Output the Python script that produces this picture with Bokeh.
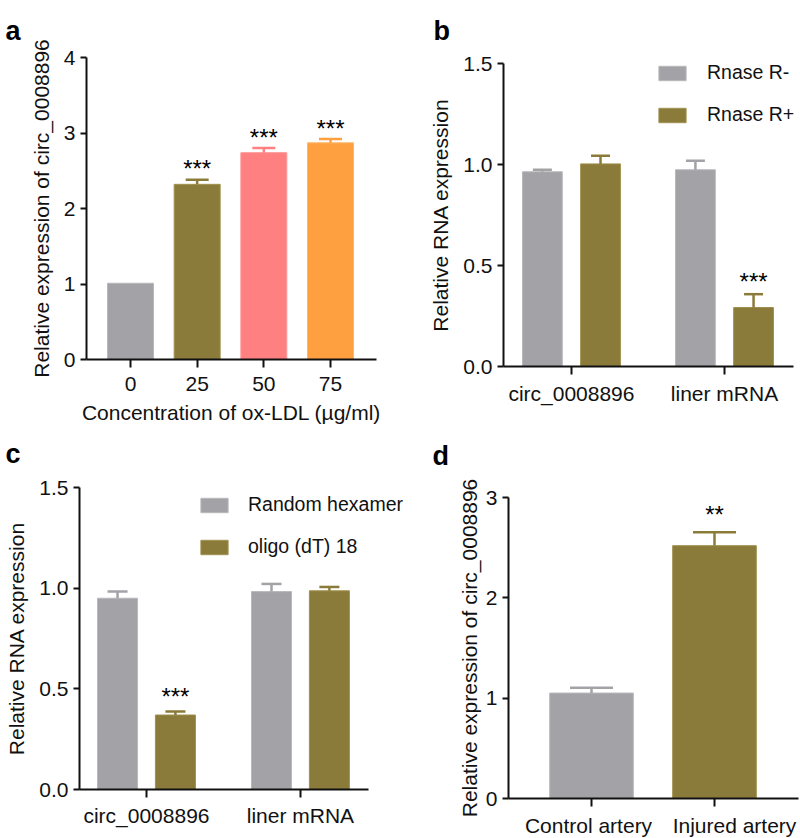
from bokeh.plotting import figure
from bokeh.layouts import column, row
from bokeh.models import (ColumnDataSource, Range1d, FixedTicker, Label, Legend,
                          LegendItem, PrintfTickFormatter)
from bokeh.transform import dodge
from bokeh.core.properties import value
from bokeh.embed import file_html
from bokeh.resources import INLINE

FONT = "Liberation Sans"
GRAY, OLIVE, PINK, ORANGE = "#A3A2A7", "#8B7B3A", "#FF8080", "#FFA040"
GRAY_EDGE, OLIVE_EDGE, PINK_EDGE, ORANGE_EDGE = "#B8B7BB", "#A0904E", "#FF9A9A", "#FFB566"

# ---------------- data ----------------
# panel a
a_conc = ["0", "25", "50", "75"]
a_mean = [1.01, 2.32, 2.74, 2.87]
a_err = [0.0, 0.06, 0.06, 0.05]
a_sig = ["", "***", "***", "***"]
a_colors = [GRAY, OLIVE, PINK, ORANGE]
a_edges = [GRAY_EDGE, OLIVE_EDGE, PINK_EDGE, ORANGE_EDGE]

# panel b
b_genes = ["circ_0008896", "liner mRNA"]
b_minus = [0.964, 0.974]
b_minus_err = [0.010, 0.044]
b_plus = [1.003, 0.292]
b_plus_err = [0.040, 0.066]
b_plus_sig = ["", "***"]

# panel c
c_genes = ["circ_0008896", "liner mRNA"]
c_random = [0.950, 0.983]
c_random_err = [0.033, 0.038]
c_oligo = [0.370, 0.987]
c_oligo_err = [0.018, 0.019]
c_oligo_sig = ["***", ""]

# panel d
d_groups = ["Control artery", "Injured artery"]
d_mean = [1.051, 2.52]
d_err = [0.053, 0.133]
d_sig = ["", "**"]


def make_fig(w, h, L, R, T, B, xb, yb):
    """Frame covers the whole canvas; axes sit at fixed locations inside it.
    L, R, T, B: pixel positions of the axis lines; xb, yb: data bounds of the axes."""
    ppx = (R - L) / (xb[1] - xb[0])
    ppy = (B - T) / (yb[1] - yb[0])
    xr = Range1d(xb[0] - L / ppx, xb[1] + (w - R) / ppx)
    yr = Range1d(yb[0] - (h - B) / ppy, yb[1] + T / ppy)
    p = figure(width=w, height=h, x_range=xr, y_range=yr,
               output_backend="svg", toolbar_location=None, title=None,
               min_border_left=0, min_border_right=0,
               min_border_top=0, min_border_bottom=0)
    p.outline_line_color = None
    p.grid.visible = False
    p.xaxis.fixed_location = yb[0]
    p.yaxis.fixed_location = xb[0]
    p.xaxis.bounds = xb
    p.yaxis.bounds = yb
    for ax in p.axis:
        ax.axis_line_width = 2
        ax.axis_line_color = "#111111"
        ax.major_tick_line_width = 2
        ax.major_tick_line_color = "#111111"
        ax.major_tick_in = 0
        ax.minor_tick_out = 0
        ax.minor_tick_in = 0
        ax.major_label_text_font = FONT
        ax.major_label_text_font_size = "21px"
        ax.major_label_text_color = "#111111"
        ax.axis_label_text_font = FONT
        ax.axis_label_text_font_size = "21px"
        ax.axis_label_text_font_style = "normal"
        ax.axis_label_text_color = "#111111"
    p.yaxis.major_tick_out = 6
    p.yaxis.major_label_standoff = 5
    p.xaxis.major_tick_out = 8
    return p


def panel_letter(p, text, x, y):
    p.add_layout(Label(x=x, y=y, x_units="screen", y_units="screen", text=text,
                       text_font=FONT, text_font_size="27px", text_font_style="bold",
                       text_baseline="alphabetic", text_color="#000000"))


def err_bars(p, xs, tops, errs, colors, cap, sig=None, sig_off=0):
    idx = [i for i, e in enumerate(errs) if e > 0]
    src = ColumnDataSource(dict(
        x=[xs[i] for i in idx],
        top=[tops[i] for i in idx],
        up=[tops[i] + errs[i] for i in idx],
        color=[colors[i] for i in idx],
    ))
    p.segment(x0="x", y0="top", x1="x", y1="up", line_color="color", line_width=2.5, source=src)
    p.scatter(x="x", y="up", marker="dash", size=cap, line_color="color", line_width=2.5, source=src)
    if sig is not None:
        sidx = [i for i, s in enumerate(sig) if s]
        ssrc = ColumnDataSource(dict(
            x=[xs[i] for i in sidx],
            y=[tops[i] + errs[i] for i in sidx],
            t=[sig[i] for i in sidx],
        ))
        p.text(x="x", y="y", text="t", source=ssrc, text_align="center",
               text_baseline="alphabetic", text_font=value(FONT), text_font_size="24px",
               text_color="#000000", y_offset=sig_off)


def legend(items, vx, vy, standoff):
    return Legend(items=items, location=(vx, vy), glyph_width=34, glyph_height=18,
                  label_standoff=standoff, spacing=19, padding=0, margin=0,
                  border_line_color=None, background_fill_alpha=0, label_text_font=FONT,
                  label_text_font_size="19.5px", label_text_color="#111111")


# ---------------- panel a ----------------
pa = make_fig(418, 430, 86, 376, 57, 359, (-0.66, 3.69), (0, 4))
ax_idx = list(range(len(a_conc)))
pa.vbar(x=ax_idx, top=a_mean, width=0.69, bottom=0, fill_color=a_colors,
        line_color=a_edges, line_width=1)
err_bars(pa, ax_idx, a_mean, a_err, a_colors, 23, a_sig, -11)
pa.xaxis.ticker = FixedTicker(ticks=ax_idx)
pa.xaxis.major_label_overrides = {i: c for i, c in zip(ax_idx, a_conc)}
pa.yaxis.ticker = FixedTicker(ticks=[0, 1, 2, 3, 4])
pa.xaxis.axis_label = "Concentration of ox-LDL (µg/ml)"
pa.yaxis.axis_label = "Relative expression of circ_0008896"
pa.xaxis.major_label_standoff = 9
pa.xaxis.axis_label_standoff = 7
pa.yaxis.axis_label_standoff = 8
panel_letter(pa, "a", 5, 400)

# ---------------- panel b ----------------
pb = make_fig(382, 430, 85, 375, 63, 366, (-0.444, 1.451), (0, 1.5))
bx = list(range(len(b_genes)))
bsrc = ColumnDataSource(dict(x=bx, minus=b_minus, plus=b_plus))
rb1 = pb.vbar(x=dodge("x", -0.19, range=pb.x_range), top="minus", width=0.26, source=bsrc,
              fill_color=GRAY, line_color=GRAY_EDGE, line_width=1)
rb2 = pb.vbar(x=dodge("x", 0.19, range=pb.x_range), top="plus", width=0.26, source=bsrc,
              fill_color=OLIVE, line_color=OLIVE_EDGE, line_width=1)
err_bars(pb, [x - 0.19 for x in bx], b_minus, b_minus_err, [GRAY] * 2, 19)
err_bars(pb, [x + 0.19 for x in bx], b_plus, b_plus_err, [OLIVE] * 2, 19, b_plus_sig, -13)
pb.xaxis.ticker = FixedTicker(ticks=bx)
pb.xaxis.major_label_overrides = {i: c for i, c in zip(bx, b_genes)}
pb.yaxis.ticker = FixedTicker(ticks=[0, 0.5, 1.0, 1.5])
pb.yaxis.formatter = PrintfTickFormatter(format="%.1f")
pb.yaxis.axis_label = "Relative RNA expression"
pb.yaxis.axis_label_standoff = 8
pb.xaxis.major_label_standoff = 7
pb.add_layout(legend([LegendItem(label="Rnase R-", renderers=[rb1]),
                      LegendItem(label="Rnase R+", renderers=[rb2])], 237, 304, 18))
panel_letter(pb, "b", 15, 400)

# ---------------- panel c ----------------
pc = make_fig(418, 408, 79, 368, 57, 359, (-0.435, 1.442), (0, 1.5))
cx = list(range(len(c_genes)))
csrc = ColumnDataSource(dict(x=cx, rnd=c_random, olg=c_oligo))
rc1 = pc.vbar(x=dodge("x", -0.188, range=pc.x_range), top="rnd", width=0.26, source=csrc,
              fill_color=GRAY, line_color=GRAY_EDGE, line_width=1)
rc2 = pc.vbar(x=dodge("x", 0.188, range=pc.x_range), top="olg", width=0.26, source=csrc,
              fill_color=OLIVE, line_color=OLIVE_EDGE, line_width=1)
err_bars(pc, [x - 0.188 for x in cx], c_random, c_random_err, [GRAY] * 2, 20)
err_bars(pc, [x + 0.188 for x in cx], c_oligo, c_oligo_err, [OLIVE] * 2, 20, c_oligo_sig, -15)
pc.xaxis.ticker = FixedTicker(ticks=cx)
pc.xaxis.major_label_overrides = {i: c for i, c in zip(cx, c_genes)}
pc.yaxis.ticker = FixedTicker(ticks=[0, 0.5, 1.0, 1.5])
pc.yaxis.formatter = PrintfTickFormatter(format="%.1f")
pc.yaxis.axis_label = "Relative RNA expression"
pc.yaxis.axis_label_standoff = 8
pc.xaxis.major_label_standoff = 6
pc.add_layout(legend([LegendItem(label="Random hexamer", renderers=[rc1]),
                      LegendItem(label="oligo (dT) 18", renderers=[rc2])], 197, 280, 17))
panel_letter(pc, "c", 5, 385)

# ---------------- panel d ----------------
pd_ = make_fig(382, 408, 90, 380, 67, 368, (-0.675, 1.683), (0, 3))
dx = list(range(len(d_groups)))
pd_.vbar(x=dx, top=d_mean, width=0.68, fill_color=[GRAY, OLIVE],
         line_color=[GRAY_EDGE, OLIVE_EDGE], line_width=1)
err_bars(pd_, dx, d_mean, d_err, [GRAY, OLIVE], 43, d_sig, -18)
pd_.xaxis.ticker = FixedTicker(ticks=dx)
pd_.xaxis.major_label_overrides = {i: "" for i in dx}
pd_.yaxis.ticker = FixedTicker(ticks=[0, 1, 2, 3])
pd_.yaxis.axis_label = "Relative expression of circ_0008896"
pd_.yaxis.axis_label_standoff = 2
# category labels of panel d, drawn under their ticks (the second one nudged right,
# as in the original, so that the two labels do not run into each other)
d_label_shift = [-3, 20]
pd_.text(x=dx, y=[0] * len(dx), text=d_groups, x_offset=d_label_shift, y_offset=27,
         text_align="center", text_baseline="alphabetic", text_font=value(FONT),
         text_font_size="21px", text_color="#111111")
panel_letter(pd_, "d", 14, 383)

layout = column(row(pa, pb), row(pc, pd_))
open("out.html", "w").write(file_html(layout, INLINE))
